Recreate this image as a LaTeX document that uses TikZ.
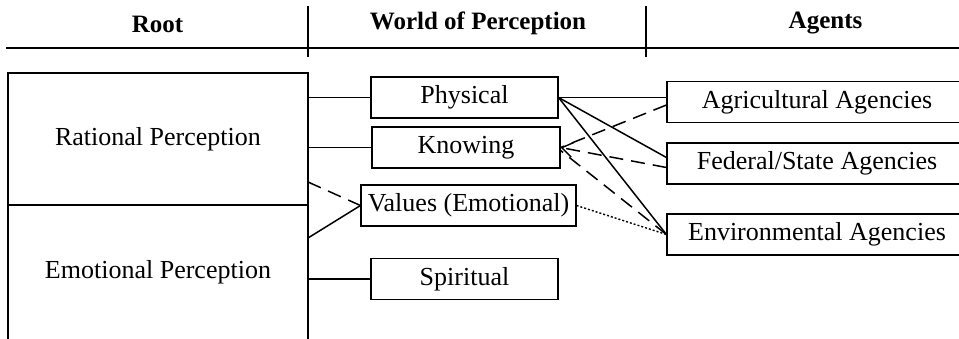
\documentclass[tikz,border=0pt]{standalone}
\usepackage{fontspec}
\setmainfont{Liberation Serif}
\usetikzlibrary{arrows.meta}
\begin{document}
\begin{tikzpicture}[x=1pt, y=-1pt,
  box/.style={draw, line width=1.1pt, inner sep=0pt, minimum height=41pt},
  head/.style={anchor=base, font=\fontsize{25}{30}\selectfont\bfseries},
  link/.style={line width=1.5pt},
  hint/.style={line width=1.5pt, dash pattern=on 14pt off 8pt},
  weak/.style={line width=1.4pt, dash pattern=on 2pt off 2pt},
  font=\fontsize{26}{31}\selectfont]
\useasboundingbox (0,0) rectangle (959,338);
\node[head] (hroot) at (157.5,32){Root};
\node[head] (hworld) at (478,29){World of Perception};
\node[head] (hagent) at (825.5,28){Agents};
\draw[line width=2pt] (6,48) -- (965,48);
\draw[line width=1.1pt] (308,6) -- (308,57);
\draw[line width=1.1pt] (646,6) -- (646,57);
\node[box, minimum width=300pt, minimum height=132pt] (rat) at (158,139){Rational Perception};
\node[box, minimum width=300pt, minimum height=135pt] (emo) at (158,272.5){Emotional Perception};
\node[box, minimum width=187pt] (phy) at (464.5,97.5){Physical};
\node[box, minimum width=188pt] (kno) at (466,147.5){Knowing};
\node[box, minimum width=215pt] (val) at (468.5,205.5){Values (Emotional)};
\node[box, minimum width=187pt] (spi) at (464.5,279){Spiritual};
\node[box, minimum width=300pt] (agr) at (817,102){Agricultural Agencies};
\node[box, minimum width=300pt] (fed) at (817,163.5){Federal/State Agencies};
\node[box, minimum width=300pt] (env) at (817,234.5){Environmental Agencies};
\coordinate (rv1) at (308,182);
\coordinate (rv2) at (308,238);
\draw[link](phy.west -| rat.east) -- (phy.west);
\draw[link](kno.west -| rat.east) -- (kno.west);
\draw[link](spi.west -| emo.east) -- (spi.west);
\draw[hint](rv1) -- (val.west);
\draw[link](rv2) -- (val.west);
\draw[link](phy.east) -- (phy.east -| agr.west);
\draw[link](phy.east) -- ([yshift=6pt]fed.west);
\draw[link](phy.east) -- (env.west);
\draw[hint, -{Straight Barb[length=11pt, width=15pt, line width=1.4pt]}]([yshift=-4pt]fed.west) -- (kno.east);
\draw[hint]([yshift=-3pt]agr.west) -- (kno.east);
\draw[hint](env.west) -- ([yshift=-3pt]kno.east);
\draw[weak](val.east) -- (env.west);
\end{tikzpicture}
\end{document}
